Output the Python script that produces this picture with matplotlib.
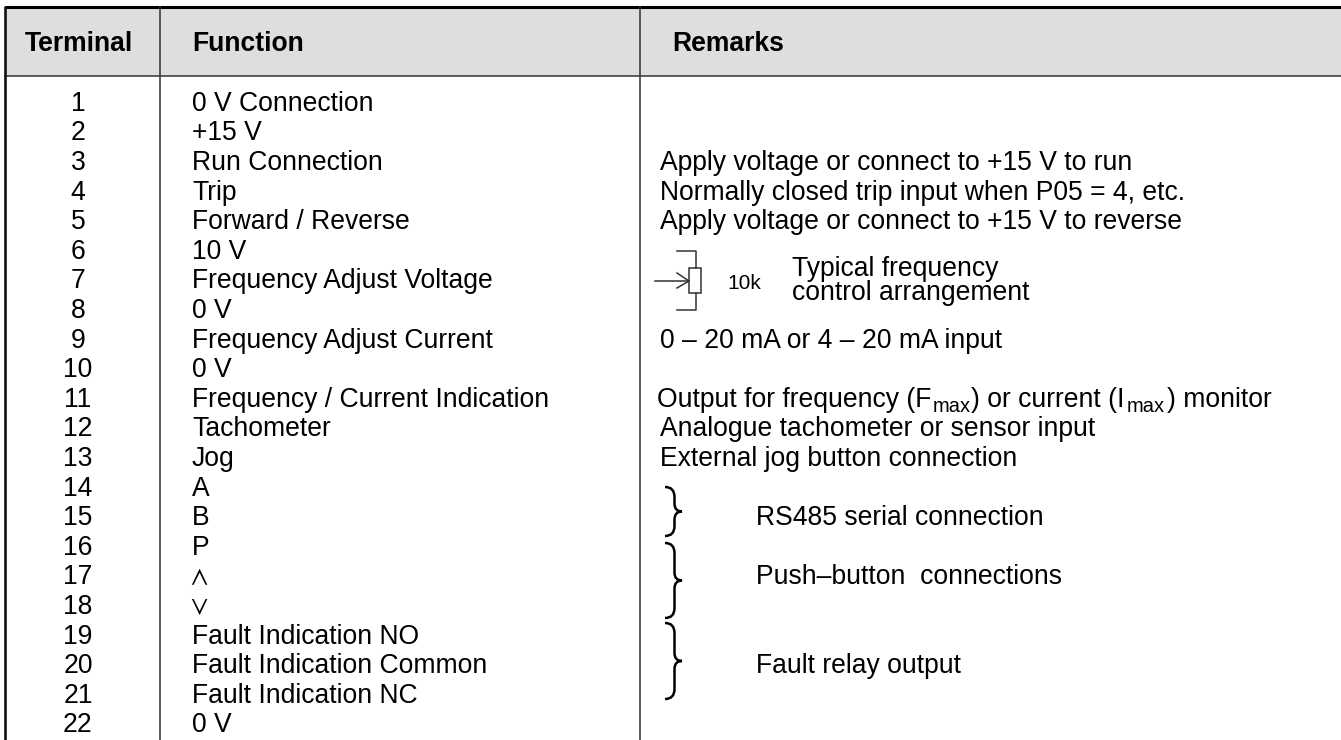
import matplotlib
matplotlib.use('Agg')
import matplotlib.pyplot as plt
from matplotlib.path import Path
from matplotlib.patches import PathPatch, Rectangle

plt.rcParams['font.family'] = ['Liberation Sans', 'DejaVu Sans']
plt.rcParams['mathtext.default'] = 'regular'

headers = ['Terminal', 'Function', 'Remarks']
terminals = [str(i) for i in range(1, 23)]
functions = ['0 V Connection', '+15 V', 'Run Connection', 'Trip', 'Forward / Reverse', '10 V',
             'Frequency Adjust Voltage', '0 V', 'Frequency Adjust Current', '0 V',
             'Frequency / Current Indication', 'Tachometer', 'Jog', 'A', 'B', 'P',
             r'$\wedge$', r'$\vee$', 'Fault Indication NO', 'Fault Indication Common',
             'Fault Indication NC', '0 V']
remarks = {3: 'Apply voltage or connect to +15 V to run',
           4: 'Normally closed trip input when P05 = 4, etc.',
           5: 'Apply voltage or connect to +15 V to reverse',
           9: '0 \u2013 20 mA or 4 \u2013 20 mA input',
           12: 'Analogue tachometer or sensor input',
           13: 'External jog button connection'}
# row 11 has subscripts, so it goes piece by piece
monitor_parts = ['Output for frequency (F', 'max', ') or current (I', 'max', ') monitor']
brace_labels = ['RS485 serial connection', 'Push\u2013button  connections', 'Fault relay output']

W, H = 1341, 740
FS = 19.1
LINE = '#333333'

fig = plt.figure(figsize=(W / 100, H / 100), dpi=100)
ax = fig.add_axes([0, 0, 1, 1])
ax.set_xlim(0, W)
ax.set_ylim(H, 0)
ax.axis('off')


def row_y(i):
    return 110.7 + (i - 1) * 29.6


# header and frame
ax.add_patch(Rectangle((5, 7), W, 69, fc='#dedede', ec='none'))
ax.plot([5, W], [7, 7], color='black', lw=2.2, solid_capstyle='butt')
ax.plot([5, W], [76, 76], color=LINE, lw=1.1)
ax.plot([5, 5], [6, H], color='#111111', lw=1.9, solid_capstyle='butt')
ax.plot([160.5, 160.5], [7, H], color=LINE, lw=1.1)
ax.plot([640.5, 640.5], [7, H], color=LINE, lw=1.1)

for x, t, ha in zip([78.5, 192, 672], headers, ['center', 'left', 'left']):
    ax.text(x, 50.7, t, ha=ha, va='baseline', fontsize=FS, fontweight='bold')

for i, (t, f) in enumerate(zip(terminals, functions), start=1):
    y = row_y(i)
    ax.text(78, y, t, ha='center', va='baseline', fontsize=FS)
    if f.startswith('$'):
        ax.text(190, y, f, ha='left', va='baseline', fontsize=20, math_fontfamily='cm')
    else:
        ax.text(192, y, f, ha='left', va='baseline', fontsize=FS)

for i, t in remarks.items():
    ax.text(660, row_y(i), t, ha='left', va='baseline', fontsize=FS)

for t, x in zip(monitor_parts, [657, 933, 971, 1126.5, 1167]):
    if t == 'max':
        ax.text(x, row_y(11) + 5, t, ha='left', va='baseline', fontsize=14.5)
    else:
        ax.text(x, row_y(11), t, ha='left', va='baseline', fontsize=FS)

# potentiometer sketch
ax.add_patch(Rectangle((689, 268), 12.5, 25, fc='white', ec=LINE, lw=1.1))
ax.plot([677, 696, 696], [250.7, 250.7, 268], color=LINE, lw=1.1)
ax.plot([677, 696, 696], [310, 310, 293], color=LINE, lw=1.1)
ax.plot([655, 689], [281, 281], color=LINE, lw=1.1)
ax.plot([677, 689, 677], [273, 281, 288], color=LINE, lw=1.1)
ax.text(727, 289, '10k', ha='left', va='baseline', fontsize=15)
ax.text(792, 275.7, 'Typical frequency', ha='left', va='baseline', fontsize=FS)
ax.text(792, 300.5, 'control arrangement', ha='left', va='baseline', fontsize=FS)


def brace(y0, y1):
    m = (y0 + y1) / 2
    xa, xb, xc = 665, 674.5, 682
    verts = [(xa, y0), (xb, y0), (xb, y0 + 10), (xb, m - 8), (xb, m), (xc, m),
             (xb, m), (xb, m + 8), (xb, y1 - 10), (xb, y1), (xa, y1)]
    codes = [Path.MOVETO, Path.CURVE3, Path.CURVE3, Path.LINETO, Path.CURVE3, Path.CURVE3,
             Path.CURVE3, Path.CURVE3, Path.LINETO, Path.CURVE3, Path.CURVE3]
    ax.add_patch(PathPatch(Path(verts, codes), fc='none', ec='black', lw=1.8))


for (y0, y1), t, yt in zip([(487, 536), (543, 618), (623, 699)], brace_labels, [525, 584, 673]):
    brace(y0, y1)
    ax.text(756, yt, t, ha='left', va='baseline', fontsize=FS)

fig.savefig('out.png', dpi=100)
